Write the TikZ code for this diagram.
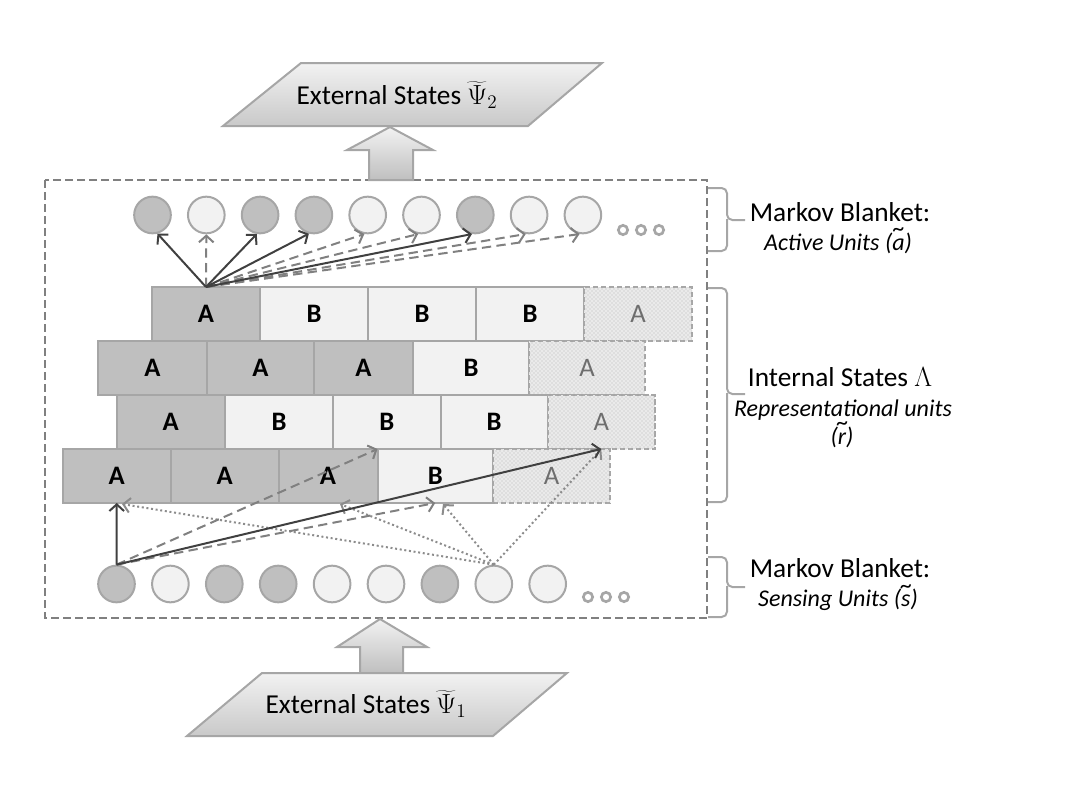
\documentclass[tikz,border=0pt]{standalone}
\usepackage{fontspec}
\setmainfont{Carlito}
\usetikzlibrary{arrows.meta,patterns,calc}
\definecolor{edge}{RGB}{166,166,166}
\definecolor{darkfill}{RGB}{191,191,191}
\definecolor{lightfill}{RGB}{242,242,242}
\definecolor{boxline}{RGB}{128,128,128}
\definecolor{texttex}{RGB}{110,110,110}
\definecolor{solidarrow}{RGB}{64,64,64}
\definecolor{dasharrow}{RGB}{128,128,128}
\definecolor{dotarrow}{RGB}{140,140,140}
\definecolor{texfill}{RGB}{234,234,234}
\newcommand\brk[6]{\node[#5, minimum width={(#3-#2)*0.75pt}] (#1) at ({(#2+#3)/2},#4) {#6};}
\newcommand\tildeover[1]{\leavevmode\hbox{\ooalign{#1\cr\hidewidth\raisebox{0.55em}{\upshape\char"7E}\hidewidth\cr}}}
\begin{document}
\begin{tikzpicture}[x=0.75pt,y=-0.75pt,
  unit/.style={circle, draw=edge, line width=1.5pt, minimum size=27.5pt, inner sep=0pt},
  dunit/.style={unit, fill=darkfill},
  lunit/.style={unit, fill=lightfill},
  more/.style={circle, draw=edge, line width=2pt, minimum size=7pt, inner sep=0pt, fill=white},
  brick/.style={draw=edge, line width=1.5pt, minimum height=40.5pt, inner sep=0pt, outer sep=0pt, font=\fontsize{20}{22}\selectfont\bfseries},
  abrick/.style={brick, fill=darkfill},
  bbrick/.style={brick, fill=lightfill},
  tbrick/.style={draw=edge, line width=1.5pt, minimum height=40.5pt, inner sep=0pt, outer sep=0pt, dash pattern=on 4pt off 2pt, fill=texfill, postaction={pattern=crosshatch dots, pattern color=gray!55}, text=texttex, font=\fontsize{20}{22}\selectfont},
  sarrow/.style={draw=solidarrow, line width=1.5pt, -{Straight Barb[length=5pt,width=11pt]}},
  darrow/.style={draw=dasharrow, line width=1.5pt, dash pattern=on 7pt off 4pt, -{Straight Barb[length=5pt,width=11pt]}},
  oarrow/.style={draw=dotarrow, line width=1.5pt, dash pattern=on 1.5pt off 2pt, -{Straight Barb[length=5pt,width=11pt]}},
  bigarrow/.style={draw=edge, line width=1.5pt, top color=lightfill, bottom color=darkfill},
  para/.style={draw=edge, line width=1.5pt, top color=lightfill, bottom color=darkfill!85},
  ptext/.style={font=\fontsize{20.5}{24}\selectfont},
  rlabel/.style={font=\fontsize{20.5}{24}\selectfont},
  ilabel/.style={font=\fontsize{18}{21}\selectfont\itshape},
  bracket/.style={draw=edge, line width=1.5pt, rounded corners=4pt}
]
\useasboundingbox (0,0) rectangle (1076,807);

% outer dashed box
\draw[draw=boxline, line width=1.5pt, dash pattern=on 6pt off 3pt] (45,180) rectangle (707,618);

% top external states
\path[para] (301,63) -- (602,63) -- (528,126) -- (223,126) -- cycle;
\node[ptext] (ext2) at (397,95) {External States $\widetilde{\Psi}_2$};
\path[bigarrow] (390,127) -- (433,150) -- (413,150) -- (413,180) -- (369,180) -- (369,150) -- (347,150) -- cycle;

% bottom external states
\path[bigarrow] (380,619) -- (427,647) -- (403,647) -- (403,673) -- (360,673) -- (360,647) -- (337,647) -- cycle;
\path[para] (262,673) -- (567,673) -- (493,736) -- (187,736) -- cycle;
\node[ptext] (ext1) at (366,704) {External States $\widetilde{\Psi}_1$};

% active units
\node[dunit] (t1) at (152.5,215) {};
\node[lunit] (t2) at (206.3,215) {};
\node[dunit] (t3) at (260.1,215) {};
\node[dunit] (t4) at (313.9,215) {};
\node[lunit] (t5) at (367.7,215) {};
\node[lunit] (t6) at (421.5,215) {};
\node[dunit] (t7) at (475.3,215) {};
\node[lunit] (t8) at (529.1,215) {};
\node[lunit] (t9) at (582.9,215) {};
\node[more] (tm1) at (623,230) {};
\node[more] (tm2) at (641,230) {};
\node[more] (tm3) at (659,230) {};

% sensing units
\node[dunit] (b1) at (116.5,584) {};
\node[lunit] (b2) at (170.4,584) {};
\node[dunit] (b3) at (224.3,584) {};
\node[dunit] (b4) at (278.2,584) {};
\node[lunit] (b5) at (332.1,584) {};
\node[lunit] (b6) at (386,584) {};
\node[dunit] (b7) at (439.9,584) {};
\node[lunit] (b8) at (493.8,584) {};
\node[lunit] (b9) at (547.7,584) {};
\node[more] (bm1) at (588,597) {};
\node[more] (bm2) at (606,597) {};
\node[more] (bm3) at (624,597) {};

% bricks row 1
\brk{r1a}{152}{260}{314}{abrick}{A}
\brk{r1b}{260}{368}{314}{bbrick}{B}
\brk{r1c}{368}{476}{314}{bbrick}{B}
\brk{r1d}{476}{584}{314}{bbrick}{B}
\brk{r1e}{584}{692}{314}{tbrick}{A}
% row 2
\brk{r2a}{98}{207}{368}{abrick}{A}
\brk{r2b}{207}{314}{368}{abrick}{A}
\brk{r2c}{314}{413}{368}{abrick}{A}
\brk{r2d}{413}{529}{368}{bbrick}{B}
\brk{r2e}{529}{645}{368}{tbrick}{A}
% row 3
\brk{r3a}{116.5}{225}{422}{abrick}{A}
\brk{r3b}{225}{333}{422}{bbrick}{B}
\brk{r3c}{333}{440.5}{422}{bbrick}{B}
\brk{r3d}{440.5}{547.5}{422}{bbrick}{B}
\brk{r3e}{547.5}{655}{422}{tbrick}{A}
% row 4
\brk{r4a}{62.5}{171}{476}{abrick}{A}
\brk{r4b}{171}{278.5}{476}{abrick}{A}
\brk{r4c}{278.5}{377.5}{476}{abrick}{A}
\brk{r4d}{377.5}{493}{476}{bbrick}{B}
\brk{r4e}{493}{610}{476}{tbrick}{A}

% top arrows
\draw[darrow] (r1a.north) -- (t2.-90);
\draw[darrow] (r1a.north) -- (t5.-100);
\draw[darrow] (r1a.north) -- (t6.-100);
\draw[darrow] (r1a.north) -- (t8.-100);
\draw[darrow] (r1a.north) -- (t9.-100);
\draw[sarrow] (r1a.north) -- (t1.-75);
\draw[sarrow] (r1a.north) -- (t3.-100);
\draw[sarrow] (r1a.north) -- (t4.-105);
\draw[sarrow] (r1a.north) -- (t7.-100);

% bottom arrows
\coordinate (d1) at (122,504);
\coordinate (d2) at (340,504);
\coordinate (d3) at (443,504);
\draw[oarrow] (b8.north) -- (d1);
\draw[oarrow] (b8.north) -- (d2);
\draw[oarrow] (b8.north) -- (d3);
\draw[oarrow] (b8.north) -- (r3e.south);
\draw[darrow] (b1.north) -- (r4d.north west);
\draw[darrow] (b1.north) -- (r4d.south);
\draw[sarrow] (b1.north) -- (r3e.south);
\draw[sarrow] (b1.north) -- (r4a.south);

% brackets
\draw[bracket] (708,188) -| (727,220) -- (745,220);
\draw[bracket] (727,219) |- (708,251);
\draw[bracket] (708,288) -| (727,394) -- (745,394);
\draw[bracket] (727,393) |- (708,502);
\draw[bracket] (708,557) -| (727,587) -- (745,587);
\draw[bracket] (727,586) |- (708,617);

% labels
\node[rlabel] (m1) at (840,212) {Markov Blanket:};
\node[ilabel] (m1b) at (838,243) {Active Units (\tildeover{a})};
\node[rlabel] (is) at (840,377) {Internal States $\Lambda$};
\node[ilabel] (isb) at (843,410) {Representational units};
\node[ilabel] (isc) at (842,437) {(\tildeover{r})};
\node[rlabel] (m2) at (840,568) {Markov Blanket:};
\node[ilabel] (m2b) at (838,600) {Sensing Units (\tildeover{s})};
\end{tikzpicture}
\end{document}
